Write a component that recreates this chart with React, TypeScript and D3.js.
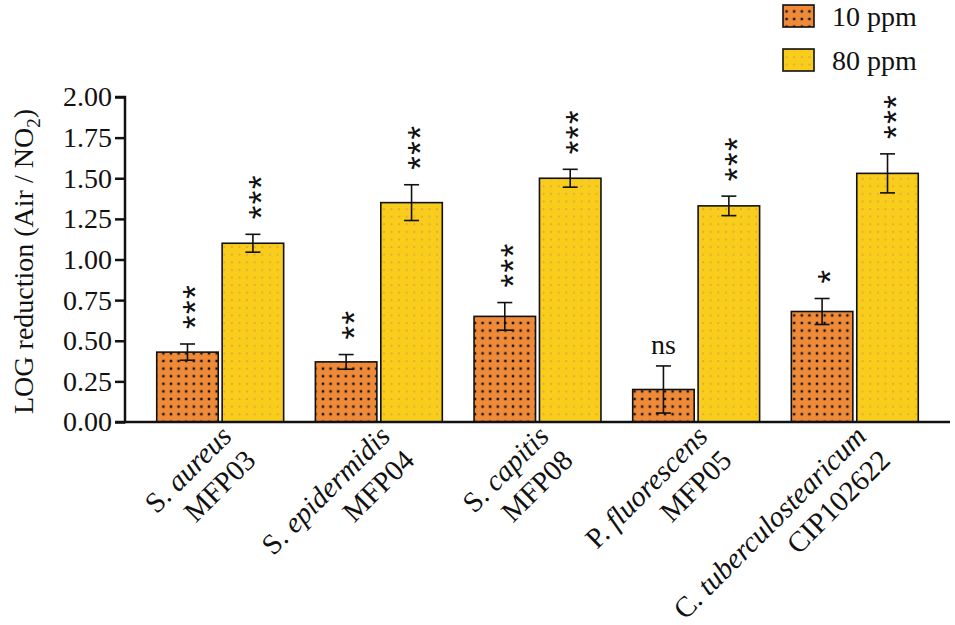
import { useEffect, useRef } from 'react';
import * as d3 from 'd3';

// Data
const strains = ['S. aureus', 'S. epidermidis', 'S. capitis', 'P. fluorescens', 'C. tuberculostearicum'];
const strainCodes = ['MFP03', 'MFP04', 'MFP08', 'MFP05', 'CIP102622'];
const doses = ['10 ppm', '80 ppm'];
const mean10 = [0.43, 0.37, 0.65, 0.2, 0.68];
const err10 = [0.05, 0.045, 0.085, 0.145, 0.08];
const mean80 = [1.1, 1.35, 1.5, 1.33, 1.53];
const err80 = [0.055, 0.11, 0.055, 0.06, 0.12];
const sig10 = ['***', '**', '***', 'ns', '*'];
const sig80 = ['***', '***', '***', '***', '***'];
const yTicks = [0, 0.25, 0.5, 0.75, 1, 1.25, 1.5, 1.75, 2];

const FONT = '"Liberation Serif", "Times New Roman", serif';
const SANS = '"Liberation Sans", Arial, sans-serif';

const App = () => {
    const chartRef = useRef<SVGSVGElement>(null);

    useEffect(() => {
        document.body.style.margin = '0';
        if (!chartRef.current) return;

        const svg = d3.select(chartRef.current);
        svg.selectAll('*').remove();

        const width = 955;
        const height = 625;
        const left = 125;
        const right = 950;
        const top = 97;
        const bottom = 422;

        svg.attr('width', width).attr('height', height);

        // Fill patterns: dotted orange and dotted yellow
        const defs = svg.append('defs');
        const p10 = defs.append('pattern')
            .attr('id', 'pat10')
            .attr('patternUnits', 'userSpaceOnUse')
            .attr('width', 7.6)
            .attr('height', 7.6);
        p10.append('rect').attr('width', 7.6).attr('height', 7.6).attr('fill', '#ee8a38');
        p10.append('rect').attr('x', 2.6).attr('y', 2.6).attr('width', 2.4).attr('height', 2.4).attr('fill', '#111');

        const p80 = defs.append('pattern')
            .attr('id', 'pat80')
            .attr('patternUnits', 'userSpaceOnUse')
            .attr('width', 7.6)
            .attr('height', 7.6);
        p80.append('rect').attr('width', 7.6).attr('height', 7.6).attr('fill', '#f8cd1c');
        p80.append('rect').attr('x', 3).attr('y', 3).attr('width', 1.8).attr('height', 1.8).attr('fill', '#e8a43c');

        const fills = ['url(#pat10)', 'url(#pat80)'];

        // Scales
        const y = d3.scaleLinear().domain([0, 2]).range([bottom, top]);
        const x0 = d3.scaleBand()
            .domain(strains)
            .range([left, right])
            .paddingInner(0.2)
            .paddingOuter(0.2);
        const x1 = d3.scaleBand()
            .domain(doses)
            .range([0, x0.bandwidth()])
            .paddingInner(0.06);

        const rows = strains.map((s, i) => [
            { strain: s, dose: doses[0], v: mean10[i], e: err10[i], sig: sig10[i] },
            { strain: s, dose: doses[1], v: mean80[i], e: err80[i], sig: sig80[i] },
        ]).flat();

        const g = svg.append('g');

        // Bars
        g.selectAll('rect.bar')
            .data(rows)
            .enter()
            .append('rect')
            .attr('class', 'bar')
            .attr('x', d => x0(d.strain)! + x1(d.dose)!)
            .attr('y', d => y(d.v))
            .attr('width', x1.bandwidth())
            .attr('height', d => y(0) - y(d.v))
            .attr('fill', d => fills[doses.indexOf(d.dose)])
            .attr('stroke', '#111')
            .attr('stroke-width', 1.6);

        // Error bars
        const cap = 7.5;
        rows.forEach(d => {
            const cx = x0(d.strain)! + x1(d.dose)! + x1.bandwidth() / 2;
            g.append('line')
                .attr('x1', cx).attr('x2', cx)
                .attr('y1', y(d.v + d.e)).attr('y2', y(d.v - d.e))
                .attr('stroke', '#111').attr('stroke-width', 1.6);
            [d.v + d.e, d.v - d.e].forEach(v => {
                g.append('line')
                    .attr('x1', cx - cap).attr('x2', cx + cap)
                    .attr('y1', y(v)).attr('y2', y(v))
                    .attr('stroke', '#111').attr('stroke-width', 1.6);
            });

            // Significance marks (stars written vertically, like Prism does)
            const yTop = y(d.v + d.e);
            if (d.sig === 'ns') {
                g.append('text')
                    .attr('x', cx)
                    .attr('y', yTop - 12)
                    .attr('text-anchor', 'middle')
                    .style('font-family', FONT)
                    .style('font-size', '28px')
                    .attr('fill', '#111')
                    .text('ns');
            } else {
                g.append('text')
                    .attr('transform', `translate(${cx + 20},${yTop - 15}) rotate(-90)`)
                    .attr('text-anchor', 'start')
                    .style('font-family', SANS)
                    .style('font-size', '35px')
                    .style('letter-spacing', '1.5px')
                    .attr('fill', '#111')
                    .text(d.sig);
            }
        });

        // Y axis
        const yAxis = svg.append('g')
            .attr('transform', `translate(${left},0)`)
            .call(d3.axisLeft(y).tickValues(yTicks).tickSize(10).tickPadding(3).tickFormat(d3.format('.2f')));
        yAxis.select('.domain').attr('stroke', '#111').attr('stroke-width', 2.5).attr('d', `M-10,${top}H0V${bottom}H-10`);
        yAxis.selectAll('.tick line').attr('stroke', '#111').attr('stroke-width', 2.5);
        yAxis.selectAll('.tick text')
            .attr('fill', '#111')
            .style('font-family', FONT)
            .style('font-size', '28px');

        // X axis line
        svg.append('line')
            .attr('x1', left - 1).attr('x2', right)
            .attr('y1', bottom).attr('y2', bottom)
            .attr('stroke', '#111').attr('stroke-width', 2.5);

        // X labels, rotated
        strains.forEach((s, i) => {
            const cx = x0(s)! + x0.bandwidth() / 2;
            const t = svg.append('text')
                .attr('transform', `translate(${cx + 13},${bottom + 16}) rotate(-45)`)
                .attr('text-anchor', 'end')
                .style('font-family', FONT)
                .style('font-size', '29px')
                .attr('fill', '#111');
            const [genus, species] = s.split(' ');
            const l1 = t.append('tspan').attr('x', 0).attr('y', 0);
            l1.append('tspan').text(genus + ' ');
            l1.append('tspan').style('font-style', 'italic').text(species);
            t.append('tspan').attr('x', 0).attr('y', 0).attr('dy', 34).text(strainCodes[i]);
        });

        // Y title
        const yt = svg.append('text')
            .attr('transform', `translate(33,${(top + bottom) / 2 + 2}) rotate(-90)`)
            .attr('text-anchor', 'middle')
            .style('font-family', FONT)
            .style('font-size', '28px')
            .attr('fill', '#111');
        yt.append('tspan').text('LOG reduction (Air / NO');
        yt.append('tspan').attr('dy', 7).style('font-size', '19px').text('2');
        yt.append('tspan').attr('dy', -7).text(')');

        // Legend
        const legend = svg.append('g');
        doses.forEach((dName, i) => {
            legend.append('rect')
                .attr('x', 783).attr('y', 5 + i * 44)
                .attr('width', 31).attr('height', 22)
                .attr('fill', fills[i])
                .attr('stroke', '#111').attr('stroke-width', 1.6);
            legend.append('text')
                .attr('x', 832).attr('y', 26 + i * 44)
                .style('font-family', FONT)
                .style('font-size', '28px')
                .attr('fill', '#111')
                .text(dName);
        });
    }, []);

    return <svg ref={chartRef} style={{ display: 'block', background: '#fff' }} />;
};

export default App;
